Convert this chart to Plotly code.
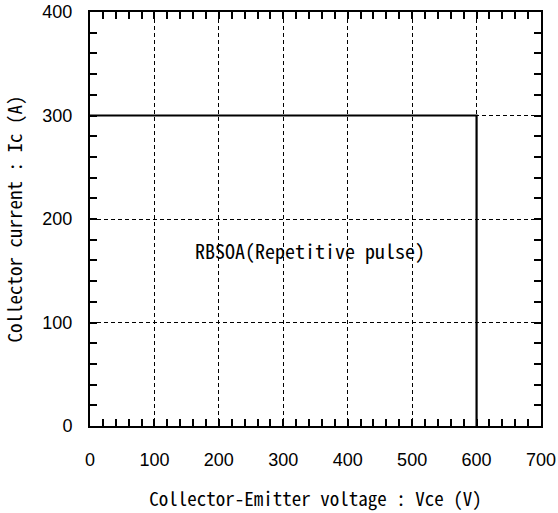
import plotly.graph_objects as go

# Data
soa_vce = [0, 600, 600]
soa_ic = [300, 300, 0]
x_ticks = [0, 100, 200, 300, 400, 500, 600, 700]
y_ticks = [0, 100, 200, 300, 400]
label_text = "RBSOA(Repetitive pulse)"
label_pos = (342, 170)

MONO = "Noto Sans Mono CJK JP, DejaVu Sans Mono, monospace"
SANS = "Liberation Sans, Arial, sans-serif"

fig = go.Figure()
fig.add_trace(go.Scatter(x=soa_vce, y=soa_ic, mode="lines",
                         line=dict(color="black", width=2.2), showlegend=False,
                         hoverinfo="skip"))

fig.add_annotation(x=label_pos[0], y=label_pos[1], text=label_text, showarrow=False,
                   font=dict(family=MONO, size=20, color="black"))

axis_common = dict(
    showline=True, linecolor="black", linewidth=2, mirror="ticks",
    ticks="inside", ticklen=7, tickwidth=2, tickcolor="black",
    showgrid=True, gridcolor="black", gridwidth=1.3, griddash="4px,3px",
    zeroline=False,
    minor=dict(ticks="inside", ticklen=7, tickwidth=2, tickcolor="black", dtick=20, showgrid=False),
    tickfont=dict(family=SANS, size=18, color="black"),
    fixedrange=True,
    automargin=False,
)

fig.update_xaxes(range=[0, 700], tickvals=x_ticks, ticktext=[str(v) for v in x_ticks],
                 title=dict(text="Collector-Emitter voltage : Vce (V)",
                            font=dict(family=MONO, size=19, color="black"), standoff=24),
                 ticklabelstandoff=16,
                 **axis_common)
fig.update_yaxes(range=[0, 400], tickvals=y_ticks, ticktext=[str(v) for v in y_ticks],
                 title=dict(text="Collector current : Ic (A)",
                            font=dict(family=MONO, size=19, color="black"), standoff=20),
                 ticklabelstandoff=12,
                 **axis_common)

fig.update_layout(width=558, height=513, margin=dict(l=90, r=17, t=12, b=87),
                  plot_bgcolor="white", paper_bgcolor="white", hovermode=False)

# remove the default page margin so the figure sits at the window's top-left
fig.write_html("out.html", config={"displayModeBar": False},
               post_script="document.body.style.margin='0';")
